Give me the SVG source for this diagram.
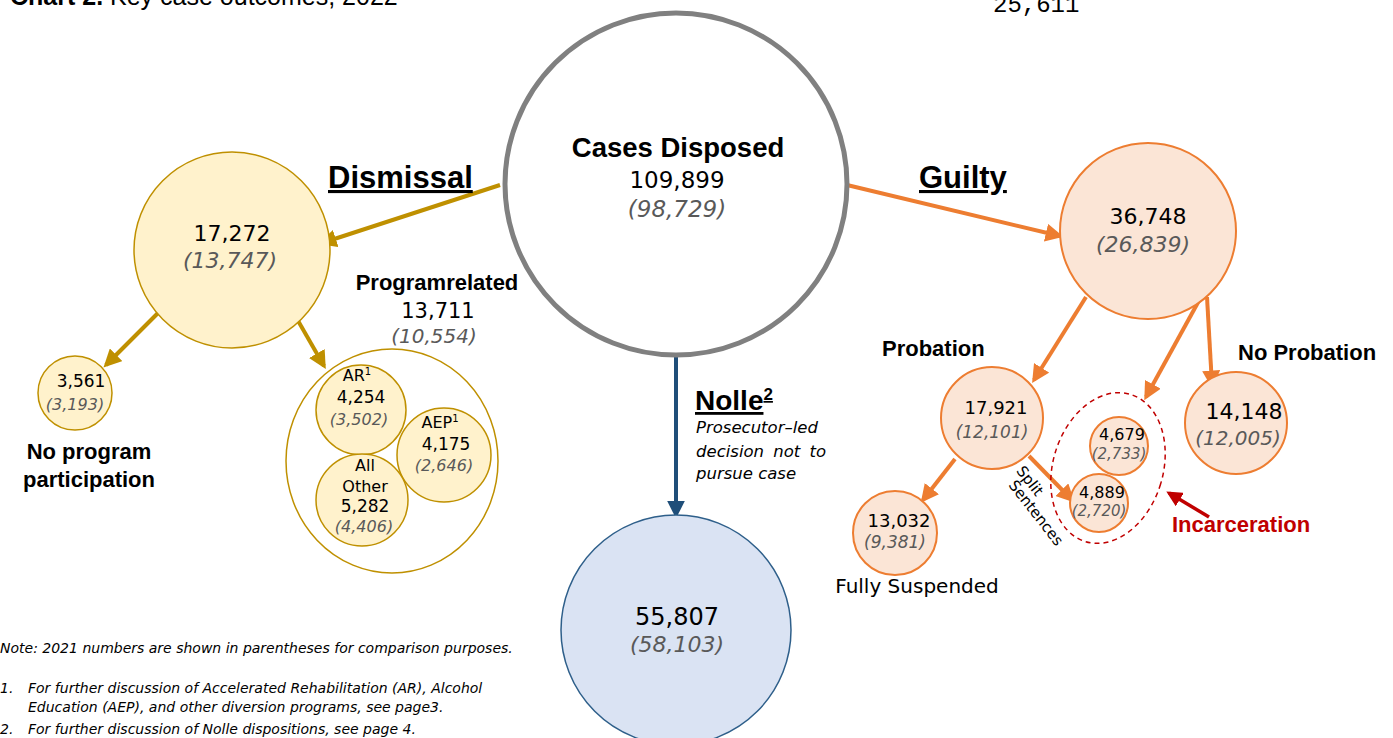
<svg xmlns="http://www.w3.org/2000/svg" width="1393" height="738" viewBox="0 0 1393 738">
<defs>
<style>
.h{font-family:"Liberation Sans",Arial,sans-serif;font-weight:bold;fill:#000}
.n{font-family:"DejaVu Sans",sans-serif;fill:#000}
.p{font-family:"DejaVu Sans",sans-serif;font-style:italic;fill:#595959}
.t{font-family:"DejaVu Sans",sans-serif;font-style:italic;fill:#000}
.gold{fill:#fff2cc;stroke:#bf9000;stroke-width:1.5}
.org{fill:#fbe5d6;stroke:#ed7d31;stroke-width:2}
.ag{stroke:#bf9000;stroke-width:4;fill:none}
.ao{stroke:#ed7d31;stroke-width:4;fill:none}
</style>
<marker id="mg" viewBox="0 0 10 10" refX="8" refY="5" markerWidth="4.5" markerHeight="4.5" orient="auto" markerUnits="strokeWidth"><path d="M0,0L10,5L0,10z" fill="#bf9000"/></marker>
<marker id="mo" viewBox="0 0 10 10" refX="8" refY="5" markerWidth="4.5" markerHeight="4.5" orient="auto" markerUnits="strokeWidth"><path d="M0,0L10,5L0,10z" fill="#ed7d31"/></marker>
<marker id="mb" viewBox="0 0 10 10" refX="8" refY="5" markerWidth="4.5" markerHeight="4.5" orient="auto" markerUnits="strokeWidth"><path d="M0,0L10,5L0,10z" fill="#1f4e79"/></marker>
<marker id="mr" viewBox="0 0 10 10" refX="8" refY="5" markerWidth="4.5" markerHeight="4.5" orient="auto" markerUnits="strokeWidth"><path d="M0,0L10,5L0,10z" fill="#c00000"/></marker>
</defs>
<rect width="1393" height="738" fill="#fff"/>

<text x="10" y="5" font-family="Liberation Sans,Arial,sans-serif" font-size="25"><tspan font-weight="bold">Chart 2.</tspan> Key case outcomes, 2022</text>
<text x="993" y="12" font-family="Liberation Mono,monospace" font-size="24">25,611</text>

<g id="connectors">
<line class="ag" x1="500" y1="185" x2="322" y2="243" marker-end="url(#mg)"/>
<line class="ao" x1="847" y1="185" x2="1060" y2="236" marker-end="url(#mo)"/>
<line x1="676" y1="356" x2="676" y2="515" stroke="#1f4e79" stroke-width="4" marker-end="url(#mb)"/>
<line class="ag" x1="160" y1="311" x2="106" y2="365" marker-end="url(#mg)"/>
<line class="ag" x1="293" y1="312" x2="324" y2="366" marker-end="url(#mg)"/>
<line class="ao" x1="1086" y1="297" x2="1034" y2="380" marker-end="url(#mo)"/>
<line class="ao" x1="1201" y1="297" x2="1146" y2="397" marker-end="url(#mo)"/>
<line class="ao" x1="1207" y1="297" x2="1212" y2="385" marker-end="url(#mo)"/>
<line class="ao" x1="955" y1="459" x2="923" y2="500" marker-end="url(#mo)"/>
<line class="ao" x1="1029" y1="456" x2="1072" y2="500" marker-end="url(#mo)"/>
<line x1="1209" y1="517" x2="1169" y2="493" stroke="#c00000" stroke-width="3.5" marker-end="url(#mr)"/>
</g>

<g id="cases">
<circle cx="676" cy="184" r="171" fill="#fff" stroke="#808080" stroke-width="5"/>
<text class="h" x="678" y="157" font-size="27.5" text-anchor="middle">Cases Disposed</text>
<text class="n" x="677" y="188" font-size="23" text-anchor="middle">109,899</text>
<text class="p" x="677" y="217" font-size="23" text-anchor="middle">(98,729)</text>
</g>

<g id="dismissal-label">
<text class="h" x="328" y="188" font-size="31" text-decoration="underline">Dismissal</text>
</g>
<g id="guilty-label">
<text class="h" x="919" y="188" font-size="31" text-decoration="underline">Guilty</text>
</g>

<g id="dismissal">
<circle class="gold" cx="232" cy="250" r="98"/>
<text class="n" x="232" y="241" font-size="22" text-anchor="middle">17,272</text>
<text class="p" x="230" y="268" font-size="22" text-anchor="middle">(13,747)</text>
</g>

<g id="no-program">
<circle class="gold" cx="75" cy="393" r="37"/>
<text class="n" x="81" y="387" font-size="17" text-anchor="middle">3,561</text>
<text class="p" x="75" y="410" font-size="16" text-anchor="middle">(3,193)</text>
<text class="h" x="89" y="459" font-size="22" text-anchor="middle">No program</text>
<text class="h" x="89" y="487" font-size="22" text-anchor="middle">participation</text>
</g>

<g id="program">
<ellipse cx="392" cy="461" rx="106" ry="112" fill="none" stroke="#bf9000" stroke-width="1.5"/>
<text class="h" x="437" y="290" font-size="22" text-anchor="middle">Programrelated</text>
<text class="n" x="438" y="318" font-size="21" text-anchor="middle">13,711</text>
<text class="p" x="434" y="343" font-size="20" text-anchor="middle">(10,554)</text>
</g>

<g id="ar">
<circle class="gold" cx="361" cy="410" r="45"/>
<text class="n" x="357" y="381" font-size="16" text-anchor="middle">AR<tspan font-size="10" dy="-6">1</tspan></text>
<text class="n" x="361" y="403" font-size="17" text-anchor="middle">4,254</text>
<text class="p" x="359" y="425" font-size="16" text-anchor="middle">(3,502)</text>
</g>

<g id="aep">
<circle class="gold" cx="444" cy="455" r="47"/>
<text class="n" x="440" y="428" font-size="16" text-anchor="middle">AEP<tspan font-size="10" dy="-6">1</tspan></text>
<text class="n" x="446" y="450" font-size="17" text-anchor="middle">4,175</text>
<text class="p" x="444" y="471" font-size="16" text-anchor="middle">(2,646)</text>
</g>

<g id="all-other">
<circle class="gold" cx="362" cy="500" r="46"/>
<text class="n" x="365" y="471" font-size="16" text-anchor="middle">All</text>
<text class="n" x="365" y="492" font-size="16" text-anchor="middle">Other</text>
<text class="n" x="365" y="512" font-size="17" text-anchor="middle">5,282</text>
<text class="p" x="364" y="532" font-size="16" text-anchor="middle">(4,406)</text>
</g>

<g id="nolle">
<circle cx="676" cy="630" r="115" fill="#dae3f3" stroke="#2e5f8a" stroke-width="1.5"/>
<text class="n" x="677" y="625" font-size="24" text-anchor="middle">55,807</text>
<text class="p" x="677" y="652" font-size="22" text-anchor="middle">(58,103)</text>
</g>

<g id="nolle-label">
<text class="h" x="695" y="410" font-size="28" text-decoration="underline">Nolle<tspan font-size="17" dy="-10">2</tspan></text>
<text class="t" x="696" y="433" font-size="16.5">Prosecutor–led</text>
<text class="t" x="696" y="457" font-size="16.5" word-spacing="4">decision not to</text>
<text class="t" x="696" y="479" font-size="16.5">pursue case</text>
</g>

<g id="guilty">
<circle class="org" cx="1148" cy="231" r="88"/>
<text class="n" x="1148" y="224" font-size="22" text-anchor="middle">36,748</text>
<text class="p" x="1143" y="252" font-size="22" text-anchor="middle">(26,839)</text>
</g>

<g id="probation">
<circle class="org" cx="992" cy="418" r="51"/>
<text class="h" x="882" y="356" font-size="22">Probation</text>
<text class="n" x="996" y="414" font-size="18" text-anchor="middle">17,921</text>
<text class="p" x="992" y="438" font-size="17" text-anchor="middle">(12,101)</text>
</g>

<g id="no-probation">
<circle class="org" cx="1236" cy="423" r="51"/>
<text class="h" x="1238" y="360" font-size="22">No Probation</text>
<text class="n" x="1244" y="419" font-size="22" text-anchor="middle">14,148</text>
<text class="p" x="1238" y="445" font-size="20" text-anchor="middle">(12,005)</text>
</g>

<g id="fully-suspended">
<circle class="org" cx="895" cy="533" r="42"/>
<text class="n" x="899" y="527" font-size="18" text-anchor="middle">13,032</text>
<text class="p" x="895" y="548" font-size="17" text-anchor="middle">(9,381)</text>
<text x="917" y="593" font-family="DejaVu Sans,sans-serif" font-size="20" text-anchor="middle">Fully Suspended</text>
</g>

<g id="incarceration">
<ellipse cx="1108" cy="468" rx="55" ry="77" transform="rotate(17 1108 468)" fill="none" stroke="#c00000" stroke-width="1.5" stroke-dasharray="5 4"/>
<text class="h" x="1172" y="532" font-size="22" style="fill:#c00000">Incarceration</text>
</g>

<g id="inc-4679">
<circle class="org" cx="1119" cy="446" r="29"/>
<text class="n" x="1122" y="440" font-size="16" text-anchor="middle">4,679</text>
<text class="p" x="1119" y="459" font-size="15" text-anchor="middle">(2,733)</text>
</g>

<g id="inc-4889">
<circle class="org" cx="1099" cy="503" r="29"/>
<text class="n" x="1102" y="498" font-size="16" text-anchor="middle">4,889</text>
<text class="p" x="1099" y="516" font-size="15" text-anchor="middle">(2,720)</text>
</g>

<g id="split-label">
<text x="1026" y="484" font-family="DejaVu Sans,sans-serif" font-size="15" transform="rotate(52 1026 484)" text-anchor="middle">Split</text>
<text x="1032" y="516" font-family="DejaVu Sans,sans-serif" font-size="15" transform="rotate(52 1032 516)" text-anchor="middle">Sentences</text>
</g>

<g id="notes" font-family="DejaVu Sans,sans-serif" font-style="italic" font-size="14">
<text x="0" y="653">Note: 2021 numbers are shown in parentheses for comparison purposes.</text>
<text x="0" y="693">1.</text>
<text x="28" y="693">For further discussion of Accelerated Rehabilitation (AR), Alcohol</text>
<text x="28" y="712">Education (AEP), and other diversion programs, see page3.</text>
<text x="0" y="734">2.</text>
<text x="28" y="734">For further discussion of Nolle dispositions, see page 4.</text>
</g>
</svg>
